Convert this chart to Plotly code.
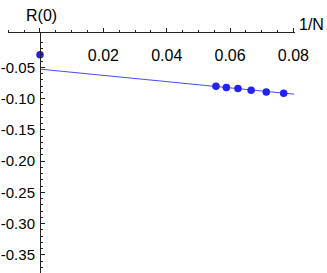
import plotly.graph_objects as go

# data
inv_n = [1/18, 1/17, 1/16, 1/15, 1/14, 1/13]
r0 = [-0.0804, -0.0824, -0.0840, -0.0867, -0.0895, -0.0915]
extrap_x = [0.0]
extrap_y = [-0.030]
fit_x = [0.0, 0.0802]
fit_y = [-0.053, -0.093]

x_ticks = [0, 0.02, 0.04, 0.06, 0.08]
x_ticktext = ["", "0.02", "0.04", "0.06", "0.08"]
y_ticks = [-0.05, -0.10, -0.15, -0.20, -0.25, -0.30, -0.35]
y_ticktext = ["-0.05", "-0.10", "-0.15", "-0.20", "-0.25", "-0.30", "-0.35"]

FONT = "Liberation Sans, Arial, sans-serif"
BLUE = "#2222f2"

xr = [-0.0101, 0.0805]
yr = [-0.379, 0.0048]

fig = go.Figure()
fig.add_trace(go.Scatter(x=fit_x, y=fit_y, mode="lines",
                         line=dict(color="#4a4af0", width=1), hoverinfo="skip"))
fig.add_trace(go.Scatter(x=inv_n, y=r0, mode="markers",
                         marker=dict(color=BLUE, size=7.5)))
fig.add_trace(go.Scatter(x=extrap_x, y=extrap_y, mode="markers",
                         marker=dict(color=BLUE, size=7.5)))
# invisible trace to carry the label axis
fig.add_trace(go.Scatter(x=[xr[0]], y=[yr[0]], xaxis="x2", mode="markers",
                         marker=dict(opacity=0), hoverinfo="skip"))

ypos = (0 - xr[0]) / (xr[1] - xr[0])

minor_x = [-0.01, -0.005, 0.005, 0.01, 0.015, 0.025, 0.03, 0.035,
           0.045, 0.05, 0.055, 0.065, 0.07, 0.075]
minor_y = [round(-0.01 * k, 2) for k in range(1, 38) if k % 5 != 0]

fig.update_layout(
    width=327, height=273,
    margin=dict(l=8, r=32, t=33, b=0, autoexpand=False),
    paper_bgcolor="white", plot_bgcolor="white",
    showlegend=False,
    font=dict(family=FONT, size=16, color="black"),
    xaxis=dict(range=xr, side="top", showgrid=False, zeroline=False, automargin=False,
               showline=True, linecolor="#222", linewidth=1,
               tickmode="array", tickvals=x_ticks, showticklabels=False,
               ticks="outside", ticklen=4, tickcolor="#222",
               minor=dict(tickmode="array", tickvals=minor_x,
                          ticks="outside", ticklen=2.5, tickcolor="#222"),
               ),
    xaxis2=dict(range=xr, overlaying="x", anchor="free", position=1, side="bottom",
                showgrid=False, zeroline=False, automargin=False, showline=False,
                tickmode="array", tickvals=x_ticks, ticktext=x_ticktext,
                ticks="", ticklabelstandoff=11),
    yaxis=dict(range=yr, anchor="free", position=ypos, showgrid=False, zeroline=False,
               automargin=False,
               showline=True, linecolor="#222", linewidth=1,
               tickmode="array", tickvals=y_ticks, ticktext=y_ticktext,
               tickfont=dict(size=15),
               ticks="inside", ticklen=4, tickcolor="#222", ticklabelstandoff=2,
               minor=dict(tickmode="array", tickvals=minor_y,
                          ticks="inside", ticklen=2.5, tickcolor="#222"),
               ),
    annotations=[
        dict(text="R(0)", x=41, y=15, xref="paper", yref="paper", showarrow=False,
             xanchor="center", yanchor="middle", font=dict(size=16, family=FONT)),
        dict(text="1/N", x=311, y=25, xref="paper", yref="paper", showarrow=False,
             xanchor="center", yanchor="middle", font=dict(size=16, family=FONT)),
    ],
)
# convert annotation pixel coords to paper coords
pw, ph = 327 - 8 - 32, 273 - 33 - 0
for a in fig.layout.annotations:
    a.x = (a.x - 8) / pw
    a.y = (273 - a.y - 0) / ph
fig.write_html("out.html", config={"displayModeBar": False},
               post_script="document.body.style.margin='0';document.body.style.overflow='hidden';")
